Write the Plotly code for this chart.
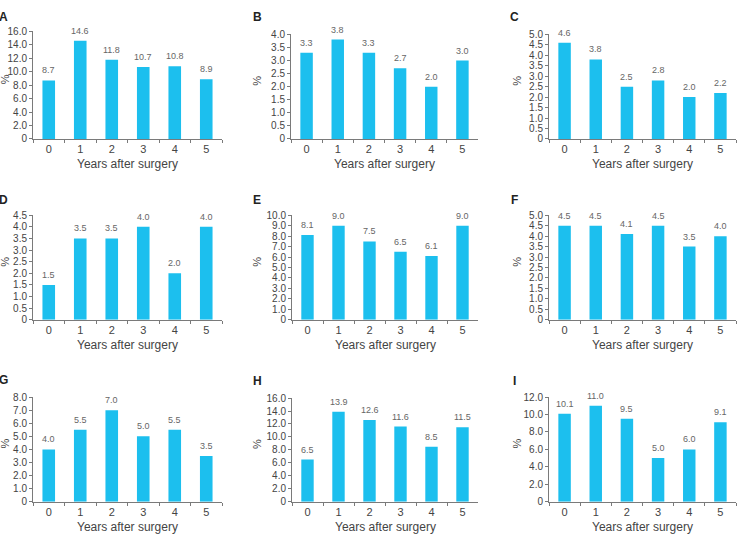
import plotly.graph_objects as go

W, H = 740, 538

years = ["0", "1", "2", "3", "4", "5"]
panel_letters = ["A", "B", "C", "D", "E", "F", "G", "H", "I"]

vals_A = [8.7, 14.6, 11.8, 10.7, 10.8, 8.9]
vals_B = [3.3, 3.8, 3.3, 2.7, 2.0, 3.0]
vals_C = [4.6, 3.8, 2.5, 2.8, 2.0, 2.2]
vals_D = [1.5, 3.5, 3.5, 4.0, 2.0, 4.0]
vals_E = [8.1, 9.0, 7.5, 6.5, 6.1, 9.0]
vals_F = [4.5, 4.5, 4.1, 4.5, 3.5, 4.0]
vals_G = [4.0, 5.5, 7.0, 5.0, 5.5, 3.5]
vals_H = [6.5, 13.9, 12.6, 11.6, 8.5, 11.5]
vals_I = [10.1, 11.0, 9.5, 5.0, 6.0, 9.1]

ticks_A = [0, 2, 4, 6, 8, 10, 12, 14, 16]
ticks_B = [0, 0.5, 1, 1.5, 2, 2.5, 3, 3.5, 4]
ticks_C = [0, 0.5, 1, 1.5, 2, 2.5, 3, 3.5, 4, 4.5, 5]
ticks_D = [0, 0.5, 1, 1.5, 2, 2.5, 3, 3.5, 4, 4.5]
ticks_E = [0, 1, 2, 3, 4, 5, 6, 7, 8, 9, 10]
ticks_F = [0, 0.5, 1, 1.5, 2, 2.5, 3, 3.5, 4, 4.5, 5]
ticks_G = [0, 1, 2, 3, 4, 5, 6, 7, 8]
ticks_H = [0, 2, 4, 6, 8, 10, 12, 14, 16]
ticks_I = [0, 2, 4, 6, 8, 10, 12]

series = [vals_A, vals_B, vals_C, vals_D, vals_E, vals_F, vals_G, vals_H, vals_I]
ticks = [ticks_A, ticks_B, ticks_C, ticks_D, ticks_E, ticks_F, ticks_G, ticks_H, ticks_I]

x_title = "Years after surgery"
y_title = "%"

# pixel layout: (x0, x1, ytop, ybottom)
boxes = [
    (33, 222, 26, 136), (291, 478, 29, 136), (549, 736, 29, 136),
    (33, 222, 214, 321), (292, 478, 214, 321), (549, 736, 214, 321),
    (33, 222, 400, 507), (292, 478, 401, 507), (549, 736, 400, 507),
]
letter_pos = [(3, 11), (257, 11), (514, 11),
              (3, 198), (257, 198), (514, 198),
              (3, 383), (257, 384), (514, 384)]
pct_x = [5, 257, 517]

BAR = "#1CBFEE"
AX = "#7a7a7a"
FONT = "Liberation Sans"

fig = go.Figure()
annotations = []
layout = {}

def fmt(v):
    return "0" if v == 0 else f"{v:.1f}"

for i, (vals, tv) in enumerate(zip(series, ticks)):
    n = i + 1
    xa = "x" if n == 1 else f"x{n}"
    ya = "y" if n == 1 else f"y{n}"
    x0, x1, yt, yb = boxes[i]
    fig.add_trace(go.Bar(
        x=years, y=vals, xaxis=xa, yaxis=ya,
        marker=dict(color=BAR, line=dict(width=0)),
        showlegend=False, hoverinfo="skip",
    ))
    for c, v in zip(years, vals):
        annotations.append(dict(
            text=f"{v:.1f}", x=c, y=v, xref=xa, yref=ya,
            showarrow=False, xanchor="center", yanchor="bottom", yshift=3,
            font=dict(size=9, color="#666666", family=FONT)))
    layout[f"xaxis{'' if n == 1 else n}"] = dict(
        domain=[x0 / W, x1 / W], anchor=ya, type="category",
        range=[-0.5, 5.5], showline=True, linecolor=AX, linewidth=1,
        ticks="outside", tickson="boundaries", ticklen=3, tickcolor=AX,
        showgrid=False, zeroline=False,
        tickfont=dict(size=11, color="#444444", family=FONT),
    )
    layout[f"yaxis{'' if n == 1 else n}"] = dict(
        domain=[1 - yb / H, 1 - yt / H], anchor=xa,
        range=[0, tv[-1]], showline=True, linecolor=AX, linewidth=1,
        ticks="outside", ticklen=3, tickcolor=AX,
        tickvals=tv, ticktext=[fmt(v) for v in tv],
        showgrid=False, zeroline=False,
        tickfont=dict(size=10, color="#444444", family=FONT),
    )
    lx, ly = letter_pos[i]
    annotations.append(dict(
        text=f"<b>{panel_letters[i]}</b>", x=lx / W, y=1 - ly / H,
        xref="paper", yref="paper", showarrow=False,
        xanchor="center", yanchor="middle",
        font=dict(size=12, color="#222222", family=FONT)))
    annotations.append(dict(
        text=y_title, x=pct_x[i % 3] / W, y=1 - ((yt + yb) / 2 - 6) / H,
        xref="paper", yref="paper", showarrow=False, textangle=-90,
        xanchor="center", yanchor="middle",
        font=dict(size=11, color="#444444", family=FONT)))
    annotations.append(dict(
        text=x_title, x=(x0 + x1) / 2 / W, y=1 - (yb + 26) / H,
        xref="paper", yref="paper", showarrow=False,
        xanchor="center", yanchor="middle",
        font=dict(size=12, color="#444444", family=FONT)))

fig.update_layout(
    width=W, height=H, margin=dict(l=0, r=0, t=0, b=0),
    paper_bgcolor="white", plot_bgcolor="white",
    bargap=0.6, annotations=annotations, **layout,
)
fig.write_html("out.html")
